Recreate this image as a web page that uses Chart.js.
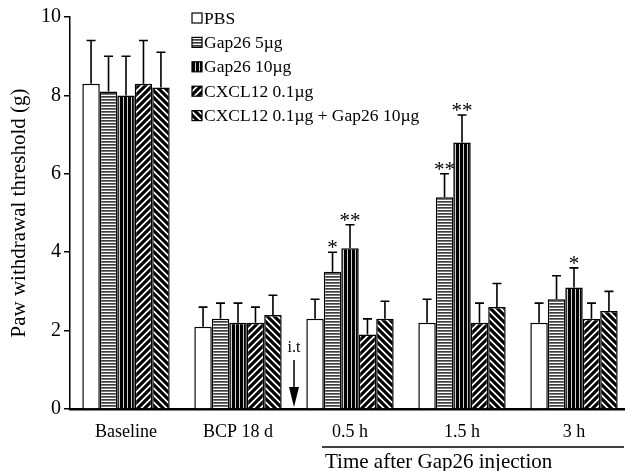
<!DOCTYPE html>
<html>
<head>
<meta charset="utf-8">
<script src="https://cdn.jsdelivr.net/npm/chart.js@4/dist/chart.umd.min.js"></script>
<style>
  html, body { margin: 0; padding: 0; background: #fff; overflow: hidden; }
  #wrap { width: 640px; height: 471px; }
</style>
</head>
<body>
<div id="wrap"><canvas id="chart"></canvas></div>
<script>
// values (g), error = SEM drawn upwards only
const categories = ['Baseline', 'BCP 18 d', '0.5 h', '1.5 h', '3 h'];

const pbs = [8.3, 2.1, 2.3, 2.2, 2.2];
const pbsErr = [1.1, 0.5, 0.5, 0.6, 0.5];

const gap5 = [8.1, 2.3, 3.5, 5.4, 2.8];
const gap5Err = [0.9, 0.4, 0.5, 0.6, 0.6];
const gap5Stars = ['', '', '*', '**', ''];

const gap10 = [8.0, 2.2, 4.1, 6.8, 3.1];
const gap10Err = [1.0, 0.5, 0.6, 0.7, 0.5];
const gap10Stars = ['', '', '**', '**', '*'];

const cxcl = [8.3, 2.2, 1.9, 2.2, 2.3];
const cxclErr = [1.1, 0.4, 0.4, 0.5, 0.4];

const combo = [8.2, 2.4, 2.3, 2.6, 2.5];
const comboErr = [0.9, 0.5, 0.45, 0.6, 0.5];

const yTicks = [0, 2, 4, 6, 8, 10];

// i.t arrow, in data units on the y axis
const itLabelY = 1.55;
const itArrowTop = 1.25;
const itArrowBottom = 0.05;

const SERIF = '"Liberation Serif", "Times New Roman", serif';
Chart.defaults.font.family = SERIF;
Chart.defaults.color = '#000';

function makePattern(kind) {
  const c = document.createElement('canvas');
  const x = c.getContext('2d');
  if (kind === 'horizontal') {
    c.width = 4; c.height = 3;
    x.fillStyle = '#fff'; x.fillRect(0, 0, 4, 3);
    x.fillStyle = '#3c3c3c'; x.fillRect(0, 0, 4, 1);
    x.fillStyle = '#777'; x.fillRect(0, 1, 4, 1);
  } else if (kind === 'vertical') {
    c.width = 4; c.height = 4;
    x.fillStyle = '#000'; x.fillRect(0, 0, 4, 4);
    x.fillStyle = '#d0d0d0'; x.fillRect(3, 0, 1, 4);
  } else {
    const s = 7;
    c.width = s; c.height = s;
    x.fillStyle = '#fff'; x.fillRect(0, 0, s, s);
    x.strokeStyle = '#000'; x.lineWidth = 3.2;
    x.beginPath();
    if (kind === 'up') {
      x.moveTo(0, s); x.lineTo(s, 0);
      x.moveTo(-s / 2, s / 2); x.lineTo(s / 2, -s / 2);
      x.moveTo(s / 2, s * 1.5); x.lineTo(s * 1.5, s / 2);
    } else {
      x.moveTo(0, 0); x.lineTo(s, s);
      x.moveTo(-s / 2, s / 2); x.lineTo(s / 2, s * 1.5);
      x.moveTo(s / 2, -s / 2); x.lineTo(s * 1.5, s / 2);
    }
    x.stroke();
  }
  return x.createPattern(c, 'repeat');
}

function barSet(label, data, err, stars, fill) {
  return {
    label: label,
    data: data,
    errors: err,
    stars: stars || [],
    backgroundColor: fill,
    borderColor: '#000',
    borderWidth: 1.5,
    categoryPercentage: 0.78,
    barPercentage: 1.0
  };
}

// upward error bars and significance stars
const errorBars = {
  id: 'errorBars',
  afterDatasetsDraw(chart) {
    const ctx = chart.ctx;
    const y = chart.scales.y;
    ctx.save();
    chart.data.datasets.forEach((ds, i) => {
      chart.getDatasetMeta(i).data.forEach((bar, j) => {
        const top = y.getPixelForValue(ds.data[j] + ds.errors[j]);
        ctx.strokeStyle = '#000';
        ctx.lineWidth = 1.6;
        ctx.beginPath();
        ctx.moveTo(bar.x, bar.y);
        ctx.lineTo(bar.x, top);
        ctx.moveTo(bar.x - 4.5, top);
        ctx.lineTo(bar.x + 4.5, top);
        ctx.stroke();
        if (ds.stars[j]) {
          ctx.fillStyle = '#000';
          ctx.font = '21px ' + SERIF;
          ctx.textAlign = 'center';
          ctx.textBaseline = 'alphabetic';
          ctx.fillText(ds.stars[j], bar.x, top + 2);
        }
      });
    });
    ctx.restore();
  }
};

const boxLegend = {
  id: 'boxLegend',
  afterDraw(chart) {
    const ctx = chart.ctx;
    ctx.save();
    ctx.font = '17.5px ' + SERIF;
    ctx.textBaseline = 'middle';
    ctx.textAlign = 'left';
    chart.data.datasets.forEach((ds, i) => {
      const cy = 18 + i * 24.4;
      ctx.fillStyle = ds.backgroundColor;
      ctx.fillRect(192, cy - 5, 10, 10);
      ctx.strokeStyle = '#000';
      ctx.lineWidth = 1.2;
      ctx.strokeRect(192, cy - 5, 10, 10);
      ctx.fillStyle = '#000';
      ctx.fillText(ds.label, 204, cy + 1);
    });
    ctx.restore();
  }
};

// i.t arrow and the "Time after Gap26 injection" bracket
const extras = {
  id: 'extras',
  afterDraw(chart) {
    const ctx = chart.ctx;
    const xs = chart.scales.x;
    const ys = chart.scales.y;
    const step = xs.getPixelForValue(1) - xs.getPixelForValue(0);
    ctx.save();
    ctx.fillStyle = '#000';
    ctx.strokeStyle = '#000';

    const ax = (xs.getPixelForValue(1) + xs.getPixelForValue(2)) / 2;
    ctx.font = '16px ' + SERIF;
    ctx.textAlign = 'center';
    ctx.textBaseline = 'middle';
    ctx.fillText('i.t', ax, ys.getPixelForValue(itLabelY));
    const aTop = ys.getPixelForValue(itArrowTop);
    const aBot = ys.getPixelForValue(itArrowBottom);
    ctx.lineWidth = 1.5;
    ctx.beginPath();
    ctx.moveTo(ax, aTop);
    ctx.lineTo(ax, aBot - 15);
    ctx.stroke();
    ctx.beginPath();
    ctx.moveTo(ax - 5, aBot - 20);
    ctx.lineTo(ax + 5, aBot - 20);
    ctx.lineTo(ax, aBot);
    ctx.closePath();
    ctx.fill();

    const lx0 = xs.getPixelForValue(2) - step * 0.25;
    const lx1 = xs.right - 6;
    const ly = xs.bottom - 24;
    ctx.lineWidth = 1.5;
    ctx.beginPath();
    ctx.moveTo(lx0, ly);
    ctx.lineTo(lx1, ly);
    ctx.stroke();
    ctx.font = '21px ' + SERIF;
    ctx.textAlign = 'left';
    ctx.fillText('Time after Gap26 injection', lx0 + 3, ly + 15);
    ctx.restore();
  }
};

const ctx = document.getElementById('chart').getContext('2d');
const myChart = new Chart(ctx, {
  type: 'bar',
  data: {
    labels: categories,
    datasets: [
      barSet('PBS', pbs, pbsErr, null, '#fff'),
      barSet('Gap26 5\u00b5g', gap5, gap5Err, gap5Stars, makePattern('horizontal')),
      barSet('Gap26 10\u00b5g', gap10, gap10Err, gap10Stars, makePattern('vertical')),
      barSet('CXCL12 0.1\u00b5g', cxcl, cxclErr, null, makePattern('up')),
      barSet('CXCL12 0.1\u00b5g + Gap26 10\u00b5g', combo, comboErr, null, makePattern('down'))
    ]
  },
  options: {
    responsive: true,
    maintainAspectRatio: false,
    animation: false,
    layout: { padding: { top: 17, right: 10, bottom: 0, left: 0 } },
    plugins: {
      legend: { display: false },
      tooltip: { enabled: false }
    },
    scales: {
      x: {
        grid: { display: false, drawTicks: false },
        border: { display: true, color: '#000', width: 2.5 },
        ticks: { font: { size: 18 }, padding: 12, color: '#000' },
        afterFit(scale) { scale.height = 62; }
      },
      y: {
        min: 0,
        max: 10,
        afterBuildTicks(scale) { scale.ticks = yTicks.map(v => ({ value: v })); },
        grid: { drawOnChartArea: false, drawTicks: true, tickLength: 6, color: '#000', lineWidth: 1.5 },
        border: { display: true, color: '#000', width: 1.5 },
        ticks: { font: { size: 20 }, padding: 3, color: '#000' },
        title: {
          display: true,
          text: 'Paw withdrawal threshold (g)',
          font: { size: 21 },
          color: '#000',
          padding: { top: 7, bottom: 0 }
        },
        afterFit(scale) { scale.width = 70; }
      }
    }
  },
  plugins: [errorBars, boxLegend, extras]
});
</script>
</body>
</html>
